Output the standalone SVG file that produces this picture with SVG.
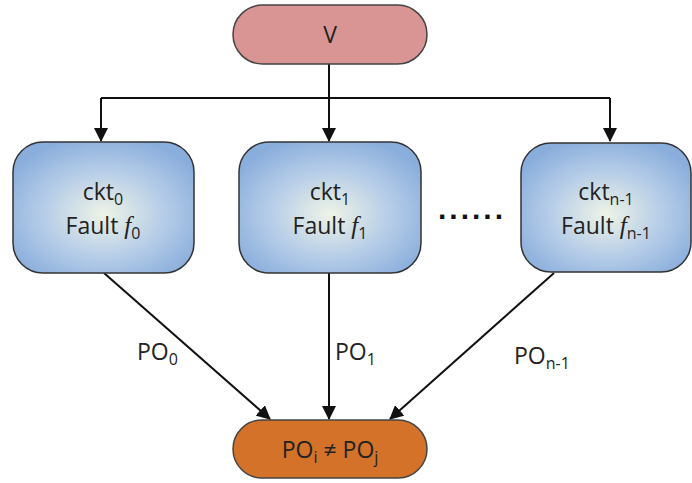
<svg xmlns="http://www.w3.org/2000/svg" width="692" height="483" viewBox="0 0 692 483">
  <style>
    .lbl { font-family: "Open Sans", "Noto Sans", sans-serif; font-size: 23px; fill: #222; }
    .sub { font-size: 16px; }
    .edge { stroke: #111; stroke-width: 2; fill: none; }
    .box { stroke: #333; stroke-width: 1.5; fill: url(#boxFill); }
    .it { font-style: italic; font-family: "Liberation Serif", serif; font-size: 25px; }
  </style>
  <defs>
    <radialGradient id="boxFill" cx="50%" cy="55%" r="60%">
      <stop offset="0" stop-color="#eef3e6"/>
      <stop offset="0.55" stop-color="#b6cde8"/>
      <stop offset="1" stop-color="#8aaedc"/>
    </radialGradient>
    <marker id="arrow" viewBox="0 0 14 14" refX="13" refY="7" markerWidth="14" markerHeight="14" markerUnits="userSpaceOnUse" orient="auto">
      <path d="M0,0 L14,7 L0,14 z" fill="#111"/>
    </marker>
  </defs>

  <g id="connectors">
    <polyline class="edge" points="329,64 329,98"/>
    <polyline class="edge" points="101,98 610,98"/>
    <line class="edge" x1="101" y1="98" x2="101" y2="141" marker-end="url(#arrow)"/>
    <line class="edge" x1="329" y1="98" x2="329" y2="141" marker-end="url(#arrow)"/>
    <line class="edge" x1="610" y1="98" x2="610" y2="141" marker-end="url(#arrow)"/>
    <line class="edge" x1="104" y1="273" x2="270" y2="419" marker-end="url(#arrow)"/>
    <line class="edge" x1="329" y1="273" x2="329" y2="419" marker-end="url(#arrow)"/>
    <line class="edge" x1="554" y1="273" x2="390" y2="419" marker-end="url(#arrow)"/>
    <text class="lbl" x="137" y="360">PO<tspan class="sub" dy="5">0</tspan></text>
    <text class="lbl" x="335" y="360">PO<tspan class="sub" dy="5">1</tspan></text>
    <text class="lbl" x="514" y="364">PO<tspan class="sub" dy="5">n-1</tspan></text>
  </g>

  <g id="node-v">
    <rect x="233" y="5" width="194" height="59" rx="29.5" fill="#d99594" stroke="#444" stroke-width="1.5"/>
    <text class="lbl" x="330" y="43" text-anchor="middle">V</text>
  </g>

  <g id="node-ckt0">
    <rect class="box" x="13" y="142" width="181" height="131" rx="30"/>
    <text class="lbl" x="103" y="200" text-anchor="middle">ckt<tspan class="sub" dy="5">0</tspan></text>
    <text class="lbl" x="103" y="234" text-anchor="middle">Fault <tspan class="it">f</tspan><tspan class="sub" dy="5">0</tspan></text>
  </g>

  <g id="node-ckt1">
    <rect class="box" x="239" y="142" width="182" height="131" rx="30"/>
    <text class="lbl" x="330" y="200" text-anchor="middle">ckt<tspan class="sub" dy="5">1</tspan></text>
    <text class="lbl" x="330" y="234" text-anchor="middle">Fault <tspan class="it">f</tspan><tspan class="sub" dy="5">1</tspan></text>
  </g>

  <g id="node-dots">
    <text x="472" y="219" text-anchor="middle" font-family="Liberation Sans, sans-serif" font-size="30" font-weight="bold" letter-spacing="3" fill="#111">......</text>
  </g>

  <g id="node-cktn1">
    <rect class="box" x="521" y="143" width="170" height="129" rx="30"/>
    <text class="lbl" x="606" y="200" text-anchor="middle">ckt<tspan class="sub" dy="5">n-1</tspan></text>
    <text class="lbl" x="606" y="234" text-anchor="middle">Fault <tspan class="it">f</tspan><tspan class="sub" dy="5">n-1</tspan></text>
  </g>

  <g id="node-po">
    <rect x="233" y="420" width="194" height="58" rx="29" fill="#d4722a" stroke="#444" stroke-width="1.5"/>
    <text class="lbl" x="330" y="458" text-anchor="middle">PO<tspan class="sub" dy="5">i</tspan><tspan dy="-5"> ≠ PO</tspan><tspan class="sub" dy="5">j</tspan></text>
  </g>
</svg>
